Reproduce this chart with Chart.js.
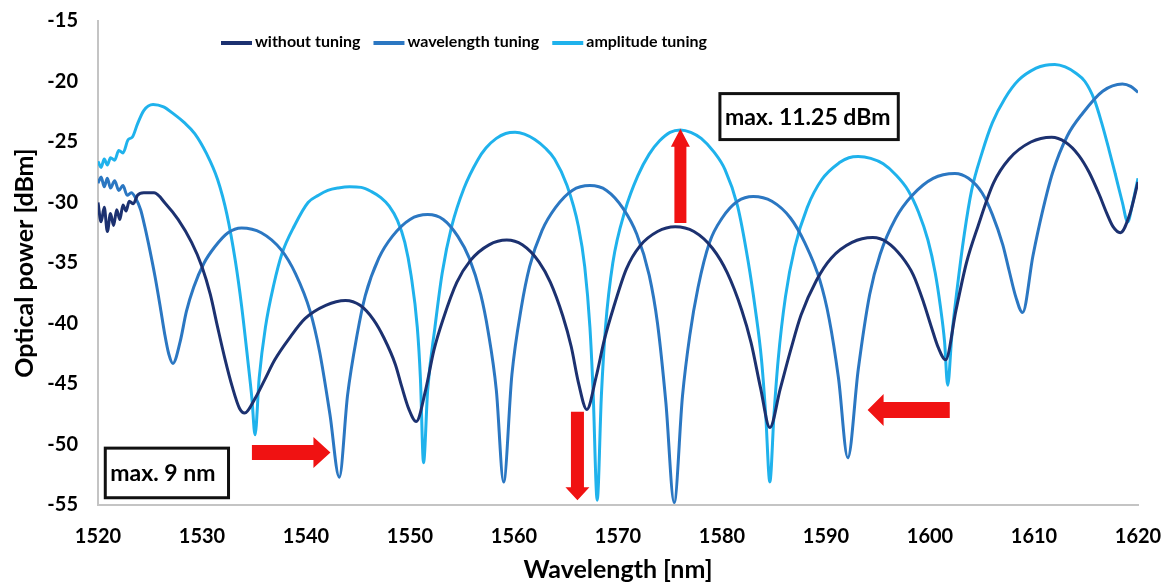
<!DOCTYPE html>
<html>
<head>
<meta charset="utf-8">
<script src="https://cdn.jsdelivr.net/npm/chart.js@4.4.1/dist/chart.umd.min.js"></script>
<style>
  html, body { margin: 0; padding: 0; background: #ffffff; }
  #wrap { width: 1171px; height: 585px; position: relative; }
</style>
</head>
<body>
<div id="wrap"><canvas id="c" width="1171" height="585"></canvas></div>
<script>
// ---------- data ----------
const seriesLabels = ['without tuning', 'wavelength tuning', 'amplitude tuning'];

const wlWithout = [1520, 1520.3, 1520.6, 1520.9, 1521.2, 1521.5, 1521.8, 1522.1, 1522.4, 1522.7, 1523.0, 1523.4, 1523.8,
  1524.4, 1525.4, 1526.5, 1527.7, 1529.0, 1530.0, 1530.8, 1531.5, 1532.2, 1532.9, 1533.6, 1534.1,
  1535.1, 1536.0, 1537.0, 1538.5, 1539.9, 1541.9, 1543.8,
  1545.2, 1546.5, 1547.5, 1548.6, 1549.2, 1549.9, 1550.6,
  1551.5, 1552.3, 1553.2, 1554.5, 1555.8, 1557.6, 1559.3,
  1560.8, 1562.4, 1563.5, 1564.7, 1565.5, 1566.2, 1567.0,
  1567.9, 1568.7, 1569.6, 1570.8, 1572.1, 1573.8, 1575.5,
  1577.3, 1579.1, 1580.5, 1581.9, 1582.8, 1583.7, 1584.6,
  1585.6, 1586.6, 1587.6, 1589.1, 1590.5, 1592.5, 1594.5,
  1595.9, 1597.3, 1598.4, 1599.4, 1600.1, 1600.8, 1601.5,
  1602.5, 1603.5, 1604.6, 1606.1, 1607.6, 1609.7, 1611.7,
  1613.0, 1614.3, 1615.3, 1616.3, 1617.0, 1617.6, 1618.3, 1619.2, 1620.0];
const powWithout = [-30.0, -31.6, -30.4, -32.4, -30.9, -31.9, -30.6, -31.4, -30.2, -30.7, -29.9, -30.1, -29.4,
  -29.2, -29.2, -30.1, -31.4, -33.3, -35.3, -37.6, -40.3, -42.9, -45.2, -47.0, -47.4,
  -46.2, -44.7, -43.0, -41.1, -39.6, -38.5, -38.1,
  -38.5, -39.7, -41.2, -43.4, -45.2, -47.1, -48.1,
  -45.5, -42.2, -39.6, -36.6, -34.8, -33.5, -33.1,
  -33.5, -34.9, -36.6, -39.4, -41.9, -44.9, -47.1,
  -44.4, -41.3, -38.6, -35.5, -33.6, -32.4, -32.0,
  -32.4, -33.8, -35.8, -38.9, -41.6, -45.3, -48.6,
  -45.4, -42.2, -39.3, -36.4, -34.6, -33.3, -32.9,
  -33.3, -34.5, -36.0, -38.3, -40.2, -42.0, -43.0,
  -38.9, -35.0, -32.0, -28.4, -26.4, -25.0, -24.6,
  -25.0, -26.1, -27.5, -29.4, -30.9, -32.0, -32.5, -31.0, -28.3];

const wlWavelength = [1520, 1520.3, 1520.6, 1520.9, 1521.2, 1521.6, 1522.0, 1522.4, 1522.8, 1523.2, 1523.6,
  1524.1, 1524.5, 1525.0, 1525.5, 1526.0, 1526.4, 1526.8, 1527.2,
  1527.9, 1528.5, 1529.2, 1530.2, 1531.2, 1532.5, 1533.8,
  1535.7, 1537.6, 1539.0, 1540.4, 1541.3, 1542.3, 1543.2,
  1544.0, 1544.9, 1545.7, 1547.0, 1548.3, 1550.0, 1551.7,
  1553.2, 1554.6, 1555.7, 1556.8, 1557.5, 1558.3, 1559.0,
  1559.8, 1560.7, 1561.5, 1562.7, 1564.0, 1565.6, 1567.3,
  1568.9, 1570.5, 1571.8, 1573.0, 1573.8, 1574.6, 1575.4,
  1576.2, 1576.9, 1577.7, 1578.8, 1580.0, 1581.5, 1583.0,
  1584.8, 1586.6, 1588.0, 1589.4, 1590.3, 1591.2, 1592.1,
  1593.1, 1594.2, 1595.2, 1596.7, 1598.3, 1600.3, 1602.4,
  1603.7, 1605.0, 1606.0, 1607.0, 1607.6, 1608.25, 1608.9,
  1609.9, 1610.8, 1611.8, 1613.2, 1614.7, 1616.6, 1618.5, 1619.3, 1620.0];
const powWavelength = [-28.4, -27.9, -28.7, -28.0, -28.8, -28.2, -29.0, -28.6, -29.4, -29.2, -29.6,
  -30.6, -32.0, -34.0, -36.2, -38.7, -40.8, -42.5, -43.3,
  -41.5, -39.0, -37.0, -35.0, -33.7, -32.5, -32.1,
  -32.5, -33.9, -35.9, -39.0, -42.3, -47.5, -52.7,
  -45.9, -41.0, -37.7, -34.6, -32.8, -31.4, -31.0,
  -31.4, -32.8, -34.6, -37.6, -40.6, -45.5, -53.1,
  -44.2, -38.7, -35.3, -32.3, -30.4, -29.0, -28.6,
  -29.0, -30.5, -32.6, -36.0, -40.0, -46.5, -54.8,
  -46.0, -41.0, -37.0, -33.3, -31.3, -29.9, -29.5,
  -29.9, -31.3, -33.4, -36.4, -39.6, -44.5, -51.1,
  -43.8, -37.6, -34.3, -31.3, -29.4, -28.0, -27.6,
  -28.0, -29.2, -31.0, -33.5, -35.6, -37.8, -39.1,
  -34.4, -30.8, -27.5, -24.5, -22.6, -20.8, -20.2, -20.4, -20.9];

const wlAmplitude = [1520, 1520.3, 1520.6, 1520.9, 1521.2, 1521.6, 1522.0, 1522.4, 1522.9, 1523.3, 1523.8, 1524.4,
  1525.3, 1526.3, 1527.3, 1528.3, 1529.3, 1530.4, 1531.5, 1532.4, 1533.2, 1533.8, 1534.4, 1534.8, 1535.1,
  1535.5, 1536.1, 1536.9, 1537.7, 1538.9, 1540.2, 1541.2, 1542.1, 1543.1, 1544.2,
  1545.3, 1546.3, 1547.2, 1548.0, 1548.8, 1549.5, 1550.1, 1550.7, 1551.0, 1551.3,
  1551.7, 1552.4, 1553.1, 1554.0, 1555.2, 1556.5, 1557.3, 1558.3, 1559.2, 1560.1,
  1561.0, 1562.0, 1563.0, 1563.9, 1565.1, 1566.2, 1566.8, 1567.3, 1567.6, 1568.0,
  1568.4, 1568.8, 1569.5, 1570.7, 1571.9, 1573.0, 1574.0, 1575.0, 1576.0,
  1577.0, 1578.0, 1579.2, 1580.3, 1581.5, 1582.5, 1583.2, 1583.8, 1584.2, 1584.6,
  1585.0, 1585.4, 1586.1, 1587.0, 1588.2, 1589.6, 1591.3, 1592.2, 1593.1,
  1594.3, 1595.5, 1596.7, 1597.9, 1598.9, 1599.8, 1600.5, 1601.0, 1601.4, 1601.7,
  1602.1, 1602.6, 1603.3, 1604.0, 1605.0, 1606.0, 1607.2, 1608.5, 1610.2, 1611.1, 1612.0,
  1613.0, 1614.0, 1614.9, 1615.8, 1616.5, 1617.2, 1617.8, 1618.5, 1619.0, 1619.5, 1620.0];
const powAmplitude = [-26.6, -27.1, -26.4, -26.9, -26.3, -26.5, -25.7, -25.9, -24.8, -24.6, -23.5, -22.4,
  -21.9, -22.1, -22.7, -23.4, -24.3, -25.9, -28.1, -31.0, -34.8, -38.5, -43.0, -46.2, -49.2,
  -44.5, -40.3, -36.8, -34.2, -31.9, -30.0, -29.4, -29.0, -28.8, -28.7,
  -28.75, -29.1, -29.6, -30.3, -31.5, -33.3, -36.0, -40.3, -44.5, -51.5,
  -45.5, -40.3, -35.8, -32.0, -28.8, -26.5, -25.5, -24.7, -24.3, -24.2,
  -24.35, -24.8, -25.5, -26.4, -28.6, -32.0, -35.3, -40.3, -45.5, -54.6,
  -46.0, -40.3, -35.0, -30.6, -27.8, -26.0, -24.9, -24.2, -24.0,
  -24.2, -24.7, -25.8, -27.3, -30.3, -34.8, -38.8, -43.0, -47.5, -53.1,
  -47.5, -43.0, -37.8, -33.7, -30.4, -28.1, -26.7, -26.3, -26.2,
  -26.35, -26.8, -27.7, -29.0, -30.8, -33.1, -35.8, -38.6, -41.5, -45.1,
  -41.0, -37.2, -32.6, -29.0, -25.9, -23.4, -21.4, -19.9, -18.9, -18.65, -18.6,
  -18.8, -19.3, -20.0, -21.5, -23.4, -25.6, -27.6, -30.0, -31.6, -30.0, -28.0];

const xTicks = [1520, 1530, 1540, 1550, 1560, 1570, 1580, 1590, 1600, 1610, 1620];
const yTicks = [-55, -50, -45, -40, -35, -30, -25, -20, -15];

const annotationTexts = ['max. 9 nm', 'max. 11.25 dBm'];

// ---------- chart ----------
const FONT = 'Lato, "Open Sans", sans-serif';
const SZ = { tick: 20, title: 25, legend: 16, box: 23, xPad: 20, yTitlePad: 10 };
const colors = ['#1c3170', '#2b77c2', '#1fb2ec'];

function toPts(xs, ys) {
  const n = Math.min(xs.length, ys.length);
  const out = [];
  for (let i = 0; i < n; i++) out.push({ x: xs[i], y: ys[i] });
  return out;
}

const legendPlugin = {
  id: 'customLegend',
  afterDraw(chart) {
    const ctx = chart.ctx;
    const y = 42;
    let x = 221;
    ctx.save();
    ctx.font = 'bold ' + SZ.legend + 'px ' + FONT;
    ctx.textBaseline = 'middle';
    ctx.textAlign = 'left';
    chart.data.datasets.forEach((ds) => {
      ctx.strokeStyle = ds.borderColor;
      ctx.lineWidth = 4;
      ctx.beginPath();
      ctx.moveTo(x, y + 1);
      ctx.lineTo(x + 31, y + 1);
      ctx.stroke();
      ctx.fillStyle = '#000';
      ctx.fillText(ds.label, x + 34, y);
      x += 34 + ctx.measureText(ds.label).width + 13;
    });
    ctx.restore();
  }
};

const annotationPlugin = {
  id: 'annotations',
  afterDatasetsDraw(chart) {
    const ctx = chart.ctx;
    const xs = chart.scales.x, ys = chart.scales.y;
    const px = v => xs.getPixelForValue(v);
    const py = v => ys.getPixelForValue(v);
    ctx.save();
    const arrows = [
      { from: [1534.8, -50.66], to: [1542.35, -50.66], body: 7.5, head: 15.5, len: 17 },
      { from: [1566.1, -47.3], to: [1566.1, -54.6], body: 6.5, head: 12, len: 13 },
      { from: [1576.0, -31.7], to: [1576.0, -23.9], body: 6, head: 9.5, len: 18 },
      { from: [1601.9, -47.15], to: [1594.0, -47.15], body: 8, head: 16, len: 16 }
    ];
    ctx.fillStyle = '#f01212';
    arrows.forEach(a => {
      const x0 = px(a.from[0]), y0 = py(a.from[1]);
      const x1 = px(a.to[0]), y1 = py(a.to[1]);
      const L = Math.hypot(x1 - x0, y1 - y0);
      const ux = (x1 - x0) / L, uy = (y1 - y0) / L;
      const nx = -uy, ny = ux;
      const bx = x1 - ux * a.len, by = y1 - uy * a.len;
      ctx.beginPath();
      ctx.moveTo(x0 + nx * a.body, y0 + ny * a.body);
      ctx.lineTo(bx + nx * a.body, by + ny * a.body);
      ctx.lineTo(bx + nx * a.head, by + ny * a.head);
      ctx.lineTo(x1, y1);
      ctx.lineTo(bx - nx * a.head, by - ny * a.head);
      ctx.lineTo(bx - nx * a.body, by - ny * a.body);
      ctx.lineTo(x0 - nx * a.body, y0 - ny * a.body);
      ctx.closePath();
      ctx.fill();
    });
    const boxes = [
      { x0: 1520.7, x1: 1532.55, y0: -50.3, y1: -54.4, text: annotationTexts[0] },
      { x0: 1579.8, x1: 1596.95, y0: -21.0, y1: -24.8, text: annotationTexts[1] }
    ];
    boxes.forEach(b => {
      const l = px(b.x0), r = px(b.x1), t = py(b.y0), btm = py(b.y1);
      ctx.fillStyle = '#ffffff';
      ctx.fillRect(l, t, r - l, btm - t);
      ctx.strokeStyle = '#111';
      ctx.lineWidth = 3;
      ctx.strokeRect(l, t, r - l, btm - t);
      ctx.fillStyle = '#000';
      ctx.font = 'bold ' + SZ.box + 'px ' + FONT;
      ctx.textBaseline = 'middle';
      ctx.textAlign = 'left';
      ctx.fillText(b.text, l + 5, (t + btm) / 2 + 1);
    });
    ctx.restore();
  }
};

const commonDs = {
  borderWidth: 3,
  pointRadius: 0,
  pointHoverRadius: 0,
  fill: false,
  cubicInterpolationMode: 'monotone'
};

new Chart(document.getElementById('c'), {
  type: 'line',
  data: {
    datasets: [
      Object.assign({ label: seriesLabels[0], data: toPts(wlWithout, powWithout), borderColor: colors[0], backgroundColor: colors[0] }, commonDs),
      Object.assign({ label: seriesLabels[1], data: toPts(wlWavelength, powWavelength), borderColor: colors[1], backgroundColor: colors[1] }, commonDs),
      Object.assign({ label: seriesLabels[2], data: toPts(wlAmplitude, powAmplitude), borderColor: colors[2], backgroundColor: colors[2] }, commonDs)
    ]
  },
  options: {
    responsive: false,
    animation: false,
    devicePixelRatio: 1,
    layout: { padding: { left: 0, right: 33, top: 21, bottom: 0 } },
    plugins: { legend: { display: false }, tooltip: { enabled: false } },
    scales: {
      x: {
        type: 'linear',
        min: xTicks[0],
        max: xTicks[xTicks.length - 1],
        afterBuildTicks(scale) { scale.ticks = xTicks.map(v => ({ value: v })); },
        afterFit(scale) { scale.height = 80; scale.paddingLeft = 0; scale.paddingRight = 0; },
        ticks: { color: '#000', font: { family: FONT, size: SZ.tick, weight: 'bold' }, padding: SZ.xPad, maxRotation: 0, callback: v => String(v) },
        grid: { display: false, drawTicks: false },
        border: { display: true, color: '#c4c4c4', width: 2 },
        title: { display: true, text: 'Wavelength [nm]', color: '#000', font: { family: FONT, size: SZ.title, weight: 'bold' }, padding: { top: 0, bottom: 0 } }
      },
      y: {
        type: 'linear',
        min: yTicks[0],
        max: yTicks[yTicks.length - 1],
        afterBuildTicks(scale) { scale.ticks = yTicks.map(v => ({ value: v })); },
        afterFit(scale) { scale.width = 98; scale.paddingTop = 0; scale.paddingBottom = 0; },
        ticks: { color: '#000', font: { family: FONT, size: SZ.tick, weight: 'bold' }, padding: 20, callback: v => String(v) },
        grid: { display: false, drawTicks: false },
        border: { display: true, color: '#c4c4c4', width: 2 },
        title: { display: true, text: 'Optical power [dBm]', color: '#000', font: { family: FONT, size: SZ.title, weight: 'bold' }, padding: { top: SZ.yTitlePad, bottom: 0 } }
      }
    }
  },
  plugins: [annotationPlugin, legendPlugin]
});
</script>
</body>
</html>
